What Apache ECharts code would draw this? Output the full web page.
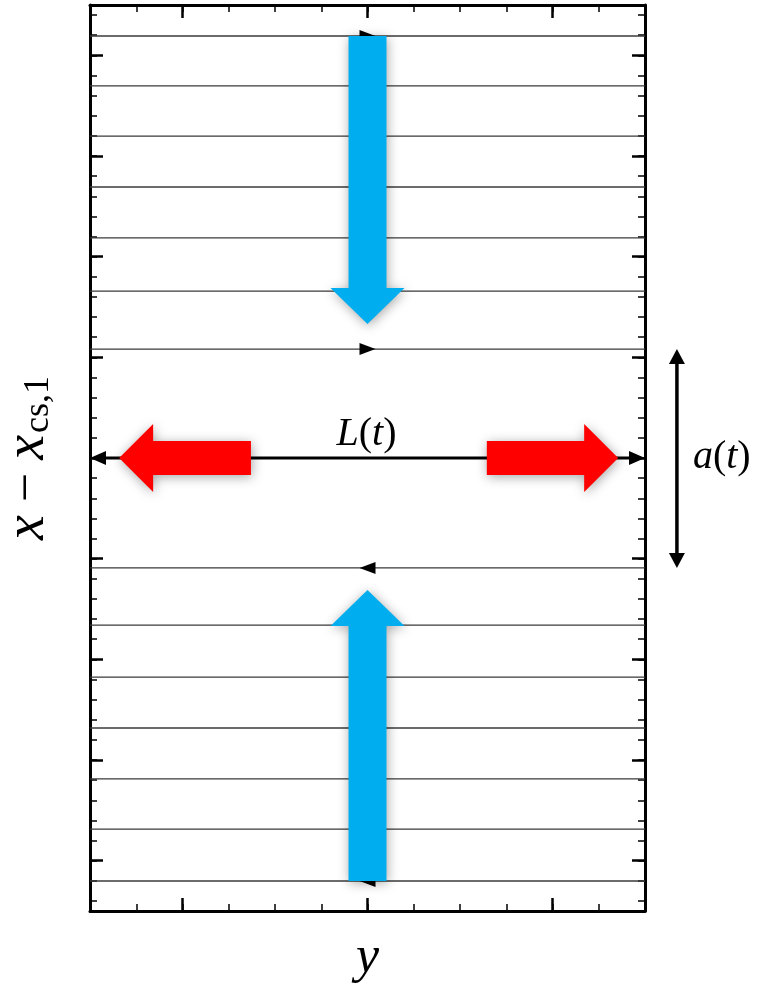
<!DOCTYPE html>
<html><head><meta charset="utf-8">
<script src="https://cdn.jsdelivr.net/npm/echarts@6/dist/echarts.min.js"></script>
<style>html,body{margin:0;padding:0;background:#fff}#c{width:757px;height:984px}</style>
</head><body><div id="c"></div>
<script>
// ---- data ----
const xRange = [-6, 6];
const yRange = [-22.5, 22.5];
const xMinorTicks = [-5, -4, -3, -2, -1, 0, 1, 2, 3, 4, 5];
const xMajorTicks = [-4, 0, 4];
const yMinorTicks = [-22, -21, -20, -19, -18, -17, -16, -15, -14, -13, -12, -11, -10, -9, -8, -7, -6, -5, -4, -3, -2, -1, 0,
  1, 2, 3, 4, 5, 6, 7, 8, 9, 10, 11, 12, 13, 14, 15, 16, 17, 18, 19, 20, 21, 22];
const yMajorTicks = [-20, -15, -10, -5, 0, 5, 10, 15, 20];
// streamlines (x - x_cs,1 positions)
const streamY = [20.96, 18.48, 15.99, 13.46, 10.93, 8.29, 5.41, -5.46, -8.30, -10.88, -13.41, -15.94, -18.43, -21.01];
// arrowheads on streamlines
const streamArrowX = [0, 0, 0, 0];
const streamArrowY = [20.96, 5.41, -5.46, -21.01];
const streamArrowDir = [1, 1, -1, -1];
// inflow (blue) arrows: along x - x_cs,1 at y = 0
const inflowX = [0, 0];
const inflowFrom = [20.96, -21.01];
const inflowTip = [6.66, -6.56];
// outflow (red) arrows: along y at x - x_cs,1 = 0
const outflowY = [0, 0];
const outflowFrom = [-2.52, 2.58];
const outflowTip = [-5.37, 5.42];
// current sheet length L(t)
const sheetY = 0;
const sheetEnds = [-6, 6];
// width a(t)
const widthX = 6.69;
const widthEnds = [5.41, -5.46];
// annotation labels
const labelL = { text: '{i|L}{n|(}{i|t}{n|)}', x: 0, y: 0 };
const labelA = { text: '{i|a}{n|(}{i|t}{n|)}', x: 6.69, y: 0 };

// ---- helpers ----
const BLUE = '#00aeef', RED = '#ff0000';
function arrowPolygon(p0, p1, w, hw, hl) {
  const dx = p1[0] - p0[0], dy = p1[1] - p0[1];
  const L = Math.hypot(dx, dy), ux = dx / L, uy = dy / L, nx = -uy, ny = ux;
  const b = [p1[0] - ux * hl, p1[1] - uy * hl];
  return [
    [p0[0] + nx * w, p0[1] + ny * w], [b[0] + nx * w, b[1] + ny * w], [b[0] + nx * hw, b[1] + ny * hw],
    [p1[0], p1[1]],
    [b[0] - nx * hw, b[1] - ny * hw], [b[0] - nx * w, b[1] - ny * w], [p0[0] - nx * w, p0[1] - ny * w]
  ];
}
function head(tip, ux, uy, hl, hw) {
  const nx = -uy, ny = ux, b = [tip[0] - ux * hl, tip[1] - uy * hl];
  return [[tip[0], tip[1]], [b[0] + nx * hw, b[1] + ny * hw], [b[0] - nx * hw, b[1] - ny * hw]];
}
function doubleArrow(api, a, b, lw, hl, hw) {
  const p0 = api.coord(a), p1 = api.coord(b);
  const dx = p1[0] - p0[0], dy = p1[1] - p0[1];
  const L = Math.hypot(dx, dy), ux = dx / L, uy = dy / L;
  return {
    type: 'group', children: [
      { type: 'line', shape: { x1: p0[0] + ux * hl * 0.8, y1: p0[1] + uy * hl * 0.8, x2: p1[0] - ux * hl * 0.8, y2: p1[1] - uy * hl * 0.8 },
        style: { stroke: '#000', lineWidth: lw } },
      { type: 'polygon', shape: { points: head(p1, ux, uy, hl, hw) }, style: { fill: '#000' } },
      { type: 'polygon', shape: { points: head(p0, -ux, -uy, hl, hw) }, style: { fill: '#000' } }
    ]
  };
}
const mathFont = "'Liberation Serif', 'DejaVu Serif', serif";
const richMath = (size) => ({
  i: { fontFamily: mathFont, fontStyle: 'italic', fontSize: size, color: '#000' },
  n: { fontFamily: mathFont, fontSize: size, color: '#000' }
});

function xAxisDef(pos, ticks, len, w, showLine, extra) {
  return Object.assign({
    type: 'value', min: xRange[0], max: xRange[1], position: pos,
    axisLine: { show: showLine, onZero: false, lineStyle: { color: '#000', width: 3 } },
    axisTick: { show: true, inside: true, length: len, customValues: ticks, lineStyle: { color: '#000', width: w } },
    axisLabel: { show: false }, splitLine: { show: false }
  }, extra || {});
}
function yAxisDef(pos, ticks, len, w, showLine, extra) {
  return Object.assign({
    type: 'value', min: yRange[0], max: yRange[1], position: pos,
    axisLine: { show: showLine, onZero: false, lineStyle: { color: '#000', width: 3 } },
    axisTick: { show: true, inside: true, length: len, customValues: ticks, lineStyle: { color: '#000', width: w } },
    axisLabel: { show: false }, splitLine: { show: false }
  }, extra || {});
}

const chart = echarts.init(document.getElementById('c'), null, { renderer: 'canvas' });
const option = {
  backgroundColor: '#fff',
  animation: false,
  grid: { left: 90, right: 112, top: 5, bottom: 73, containLabel: false, outerBoundsMode: 'none' },
  xAxis: [
    xAxisDef('bottom', xMinorTicks, 7, 1.5, true, {
      name: 'y', nameLocation: 'middle', nameGap: 21,
      nameTextStyle: { fontFamily: mathFont, fontStyle: 'italic', fontSize: 52, color: '#000' }
    }),
    xAxisDef('bottom', xMajorTicks, 13, 2.5, false),
    xAxisDef('top', xMinorTicks, 7, 1.5, true),
    xAxisDef('top', xMajorTicks, 13, 2.5, false)
  ],
  yAxis: [
    yAxisDef('left', yMinorTicks, 7, 1.5, true, {
      name: '{i|x}{n|−}{i|x}{s|cs,1}', nameLocation: 'middle', nameGap: 33, nameRotate: 90,
      nameTextStyle: {
        rich: {
          i: { fontFamily: mathFont, fontStyle: 'italic', fontSize: 56, lineHeight: 58, color: '#000' },
          n: { fontFamily: mathFont, fontSize: 52, lineHeight: 58, padding: [0, 13, 0, 13], color: '#000' },
          s: { fontFamily: mathFont, fontSize: 36, lineHeight: 30, verticalAlign: 'bottom', padding: [0, 0, 0, 2], color: '#000' }
        }
      }
    }),
    yAxisDef('left', yMajorTicks, 13, 2.5, false),
    yAxisDef('right', yMinorTicks, 7, 1.5, true),
    yAxisDef('right', yMajorTicks, 13, 2.5, false)
  ],
  series: [
    { // streamlines
      type: 'custom', coordinateSystem: 'cartesian2d', xAxisIndex: 0, yAxisIndex: 0, clip: false, z: 2,
      data: streamY.map(v => [0, v]),
      renderItem: (params, api) => {
        const y = api.value(1);
        const p0 = api.coord([xRange[0], y]), p1 = api.coord([xRange[1], y]);
        return { type: 'line', shape: { x1: p0[0], y1: p0[1], x2: p1[0], y2: p1[1] }, style: { stroke: '#3a3a3a', lineWidth: 1.3 } };
      }
    },
    { // streamline arrowheads
      type: 'custom', coordinateSystem: 'cartesian2d', xAxisIndex: 0, yAxisIndex: 0, clip: false, z: 3,
      data: streamArrowX.map((x, i) => [x, streamArrowY[i], streamArrowDir[i]]),
      renderItem: (params, api) => {
        const c = api.coord([api.value(0), api.value(1)]), d = api.value(2);
        const tip = [c[0] + d * 8, c[1]];
        return { type: 'polygon', shape: { points: head(tip, d, 0, 16, 6) }, style: { fill: '#000' } };
      }
    },
    { // inflow arrows (blue)
      type: 'custom', coordinateSystem: 'cartesian2d', xAxisIndex: 0, yAxisIndex: 0, clip: false, z: 4,
      data: inflowX.map((x, i) => [x, inflowFrom[i], inflowTip[i]]),
      renderItem: (params, api) => {
        const p0 = api.coord([api.value(0), api.value(1)]), p1 = api.coord([api.value(0), api.value(2)]);
        return { type: 'polygon', shape: { points: arrowPolygon(p0, p1, 19, 37, 36) },
          style: { fill: BLUE, shadowBlur: 12, shadowColor: 'rgba(0,0,0,0.35)', shadowOffsetX: 1, shadowOffsetY: 2 } };
      }
    },
    { // current sheet L(t)
      type: 'custom', coordinateSystem: 'cartesian2d', xAxisIndex: 0, yAxisIndex: 0, clip: false, z: 5,
      data: [[sheetEnds[0], sheetEnds[1], sheetY]],
      renderItem: (params, api) => doubleArrow(api, [api.value(0), api.value(2)], [api.value(1), api.value(2)], 3, 16, 7)
    },
    { // outflow arrows (red)
      type: 'custom', coordinateSystem: 'cartesian2d', xAxisIndex: 0, yAxisIndex: 0, clip: false, z: 6,
      data: outflowY.map((y, i) => [outflowFrom[i], outflowTip[i], y]),
      renderItem: (params, api) => {
        const p0 = api.coord([api.value(0), api.value(2)]), p1 = api.coord([api.value(1), api.value(2)]);
        return { type: 'polygon', shape: { points: arrowPolygon(p0, p1, 17, 34, 34) },
          style: { fill: RED, shadowBlur: 12, shadowColor: 'rgba(0,0,0,0.35)', shadowOffsetX: 1, shadowOffsetY: 2 } };
      }
    },
    { // width a(t)
      type: 'custom', coordinateSystem: 'cartesian2d', xAxisIndex: 0, yAxisIndex: 0, clip: false, z: 5,
      data: [[widthX, widthEnds[0], widthEnds[1]]],
      renderItem: (params, api) => doubleArrow(api, [api.value(0), api.value(1)], [api.value(0), api.value(2)], 3.5, 15, 8)
    },
    { // labels
      type: 'custom', coordinateSystem: 'cartesian2d', xAxisIndex: 0, yAxisIndex: 0, clip: false, z: 7,
      data: [[labelL.x, labelL.y, 0], [labelA.x, labelA.y, 1]],
      renderItem: (params, api) => {
        const c = api.coord([api.value(0), api.value(1)]);
        const isA = api.value(2) === 1;
        return {
          type: 'text', x: isA ? c[0] + 16 : c[0] - 1, y: isA ? c[1] - 1 : c[1] - 4,
          style: { text: isA ? labelA.text : labelL.text, align: isA ? 'left' : 'center',
            verticalAlign: isA ? 'middle' : 'bottom', rich: richMath(40) }
        };
      }
    }
  ]
};
chart.setOption(option);
</script></body></html>
